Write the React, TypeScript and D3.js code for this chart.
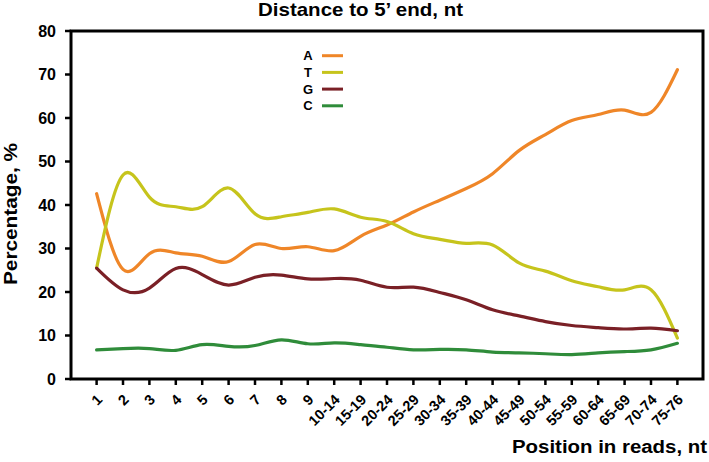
import React from "react";
import * as d3 from "d3";

const categories = ["1","2","3","4","5","6","7","8","9","10-14","15-19","20-24","25-29","30-34","35-39","40-44","45-49","50-54","55-59","60-64","65-69","70-74","75-76"];
const seriesA = [42.6,25.2,28.8,29.0,28.2,27.0,30.9,30.0,30.4,29.5,32.8,35.4,38.4,41.1,43.8,47.2,52.5,56.2,59.4,60.8,61.8,61.3,71.1];
const seriesT = [25.5,46.9,41.8,39.6,39.6,43.9,38.0,37.3,38.3,39.1,37.2,36.2,33.4,32.1,31.2,30.8,26.7,24.8,22.6,21.2,20.5,20.5,9.4];
const seriesG = [25.5,20.5,20.9,25.4,24.0,21.6,23.4,23.9,23.0,23.1,22.7,21.1,21.1,19.9,18.2,15.9,14.5,13.2,12.3,11.8,11.5,11.7,11.1];
const seriesC = [6.7,7.0,7.0,6.6,7.9,7.5,7.7,9.0,8.1,8.3,7.9,7.3,6.7,6.8,6.7,6.2,6.0,5.8,5.6,6.0,6.3,6.7,8.2];
const seriesNames = ["A","T","G","C"];
const seriesColors = ["#EF8628","#C6C41C","#7A2026","#2F8C3A"];
const yTicks = [0,10,20,30,40,50,60,70,80];

const W = 709, H = 462;
const left = 71, right = 703, top = 31, bottom = 379;
const FONT = "'Liberation Sans', Arial, sans-serif";

export default function App() {
  const x = d3.scalePoint<string>().domain(categories).range([left, right]).padding(0.97);
  const y = d3.scaleLinear().domain([0, 80]).range([bottom, top]);
  const line = d3.line<number>()
    .x((_, i) => x(categories[i]) as number)
    .y(d => y(d))
    .curve(d3.curveNatural);
  const all = [seriesA, seriesT, seriesG, seriesC];

  return (
    <svg width={W} height={H} style={{ position: "absolute", left: 0, top: 0, background: "#fff" }} fontFamily={FONT}>
      <rect x={0} y={0} width={W} height={H} fill="#fff" />
      <text x={360.5} y={16} textAnchor="middle" fontSize={18.5} fontWeight="bold" textLength={205} lengthAdjust="spacingAndGlyphs">Distance to 5’ end, nt</text>
      {all.map((s, i) => (
        <path key={i} d={line(s) || ""} fill="none" stroke={seriesColors[i]} strokeWidth={3.2} strokeLinecap="round" />
      ))}
      <rect x={left} y={top} width={right - left} height={bottom - top} fill="none" stroke="#000" strokeWidth={3} />
      {yTicks.map(t => (
        <g key={t}>
          <line x1={left - 6} x2={left} y1={y(t)} y2={y(t)} stroke="#000" strokeWidth={2.5} />
          <text x={56} y={y(t)} dy="0.36em" textAnchor="end" fontSize={16} fontWeight="bold">{t}</text>
        </g>
      ))}
      {categories.map(c => (
        <g key={c}>
          <line x1={x(c)} x2={x(c)} y1={bottom} y2={bottom + 6} stroke="#000" strokeWidth={2.5} />
          <text transform={`translate(${(x(c) as number) + 3},${397}) rotate(-45)`} dy="0.35em" textAnchor="end" fontSize={14.5} fontWeight="bold">{c}</text>
        </g>
      ))}
      <text x={707} y={453} textAnchor="end" fontSize={18} fontWeight="bold" textLength={195} lengthAdjust="spacingAndGlyphs">Position in reads, nt</text>
      <text transform={`translate(17,214) rotate(-90)`} textAnchor="middle" fontSize={18} fontWeight="bold" textLength={142} lengthAdjust="spacingAndGlyphs">Percentage, %</text>
      {seriesNames.map((n, i) => {
        const ly = 55.7 + i * 16.7;
        return (
          <g key={n}>
            <text x={308} y={ly} dy="0.36em" textAnchor="middle" fontSize={13} fontWeight="bold">{n}</text>
            <line x1={322} x2={343} y1={ly} y2={ly} stroke={seriesColors[i]} strokeWidth={3} />
          </g>
        );
      })}
    </svg>
  );
}
